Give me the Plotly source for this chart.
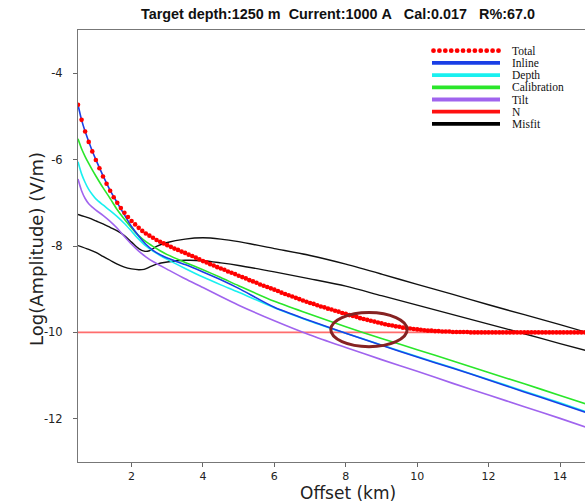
import plotly.graph_objects as go

# ---------------- data ----------------
offset_lines = [0.5, 0.6, 0.7, 0.8, 0.9, 1.0, 1.2, 1.4, 1.6, 1.8, 2.0, 2.2, 2.4, 2.6, 2.8,
                3.0, 3.5, 4.0, 4.5, 5.0, 6.0, 7.0, 8.0, 9.0, 10.0, 11.0, 12.0, 13.0, 14.0, 15.0]

inline = [-4.73, -5.08, -5.35, -5.58, -5.80, -6.00, -6.37, -6.71, -7.00, -7.28, -7.55, -7.77,
          -7.96, -8.10, -8.20, -8.28, -8.43, -8.60, -8.78, -8.98, -9.42, -9.73, -10.02, -10.30,
          -10.57, -10.83, -11.10, -11.38, -11.65, -11.93]
depth = [-6.05, -6.33, -6.53, -6.69, -6.81, -6.91, -7.05, -7.18, -7.32, -7.48, -7.66, -7.84,
         -8.00, -8.12, -8.22, -8.31, -8.52, -8.72, -8.90, -9.07, -9.43, -9.74, -10.02, -10.29,
         -10.56, -10.82, -11.09, -11.36, -11.63, -11.91]
calibration = [-5.52, -5.75, -5.93, -6.09, -6.24, -6.38, -6.65, -6.90, -7.16, -7.38, -7.58, -7.76,
               -7.90, -8.01, -8.11, -8.20, -8.38, -8.55, -8.73, -8.92, -9.28, -9.58, -9.87, -10.14,
               -10.40, -10.66, -10.93, -11.19, -11.46, -11.73]
tilt = [-6.45, -6.72, -6.90, -7.02, -7.10, -7.17, -7.29, -7.43, -7.59, -7.78, -7.96, -8.12,
        -8.25, -8.36, -8.45, -8.54, -8.76, -8.96, -9.17, -9.37, -9.73, -10.06, -10.35, -10.63,
        -10.90, -11.18, -11.45, -11.72, -11.99, -12.27]

offset_misfit = [0.5, 0.8, 1.0, 1.2, 1.4, 1.6, 1.8, 2.0, 2.2, 2.35, 2.5, 2.7, 3.0, 3.5, 4.0,
                 4.5, 5.0, 6.0, 7.0, 8.0, 9.0, 10.0, 11.0, 12.0, 13.0, 14.0, 15.0]
misfit_a = [-7.27, -7.35, -7.42, -7.49, -7.57, -7.65, -7.76, -7.91, -8.06, -8.12, -8.11, -8.01,
            -7.92, -7.84, -7.81, -7.84, -7.90, -8.06, -8.22, -8.42, -8.65, -8.89, -9.12, -9.36,
            -9.59, -9.82, -10.06]
misfit_b = [-7.99, -8.08, -8.15, -8.24, -8.33, -8.42, -8.49, -8.53, -8.55, -8.54, -8.49, -8.42,
            -8.37, -8.33, -8.34, -8.39, -8.45, -8.60, -8.76, -8.93, -9.15, -9.37, -9.59, -9.81,
            -10.03, -10.26, -10.48]

offset_n = [0.5, 15.0]
noise = [-10.0, -10.0]

offset_total = [round(0.5 + 0.1 * i, 1) for i in range(146)]
total = [-4.73, -5.08, -5.35, -5.59, -5.81, -6.01, -6.20, -6.39, -6.56, -6.72,
         -6.87, -7.00, -7.12, -7.23, -7.33, -7.42, -7.50, -7.58, -7.65, -7.71,
         -7.76, -7.81, -7.86, -7.90, -7.94, -7.98, -8.02, -8.06, -8.09, -8.13,
         -8.16, -8.20, -8.23, -8.27, -8.31, -8.35, -8.38, -8.42, -8.45, -8.49,
         -8.52, -8.55, -8.59, -8.62, -8.65, -8.69, -8.72, -8.75, -8.79, -8.82,
         -8.85, -8.89, -8.92, -8.95, -8.98, -9.01, -9.04, -9.08, -9.11, -9.14,
         -9.17, -9.20, -9.23, -9.26, -9.29, -9.32, -9.34, -9.37, -9.40, -9.42,
         -9.45, -9.47, -9.50, -9.52, -9.55, -9.57, -9.60, -9.62, -9.64, -9.67,
         -9.69, -9.71, -9.73, -9.75, -9.77, -9.79, -9.81, -9.83, -9.84, -9.86,
         -9.87, -9.89, -9.90, -9.91, -9.92, -9.93, -9.94, -9.95, -9.96, -9.96,
         -9.97, -9.97, -9.98, -9.98, -9.98, -9.99, -9.99, -9.99, -9.99, -9.99,
         -10.0, -10.0, -10.0, -10.0, -10.0, -10.0, -10.0, -10.0, -10.0, -10.0,
         -10.0, -10.0, -10.0, -10.0, -10.0, -10.0, -10.0, -10.0, -10.0, -10.0,
         -10.0, -10.0, -10.0, -10.0, -10.0, -10.0, -10.0, -10.0, -10.0, -10.0,
         -10.0, -10.0, -10.0, -10.0, -10.0, -10.0]

x_ticks = [2, 4, 6, 8, 10, 12, 14]
y_ticks = [-4, -6, -8, -10, -12]
y_tick_labels = ["-4", "-6", "-8", "-10", "-12"]

legend_names = ["Total", "Inline", "Depth", "Calibration", "Tilt", "N", "Misfit"]
title_text = "Target depth:1250 m  Current:1000 A   Cal:0.017   R%:67.0"
x_title = "Offset (km)"
y_title = "Log(Amplitude) (V/m)"

# ---------------- styles ----------------
C_TOTAL = "#ff0000"
C_INLINE = "#1a3fe6"
C_DEPTH = "#19f0f0"
C_CAL = "#2ae62a"
C_TILT = "#a064ee"
C_N = "rgba(255,60,60,0.75)"
C_MISFIT = "#111111"

W, H = 585, 504
L, R, T, B = 78, 0, 30, 42
PW, PH = W - L - R, H - T - B

fig = go.Figure()

def line(x, y, color, width=1.6):
    fig.add_trace(go.Scatter(x=x, y=y, mode="lines", showlegend=False, hoverinfo="skip",
                             line=dict(color=color, width=width, shape="spline", smoothing=0.8)))

fig.add_trace(go.Scatter(x=offset_n, y=noise, mode="lines", showlegend=False,
                         line=dict(color=C_N, width=1.6)))
line(offset_misfit, misfit_a, C_MISFIT, 1.4)
line(offset_misfit, misfit_b, C_MISFIT, 1.4)
line(offset_lines, tilt, C_TILT)
line(offset_lines, depth, C_DEPTH)
line(offset_lines, calibration, C_CAL)
line(offset_lines, inline, C_INLINE)
fig.add_trace(go.Scatter(x=offset_total, y=total, mode="markers", showlegend=False,
                         marker=dict(color=C_TOTAL, size=4.6, line=dict(width=0)),
                         cliponaxis=True))

shapes = []
# highlight ellipse
shapes.append(dict(type="circle", xref="x", yref="y", x0=7.58, x1=9.72, y0=-10.33, y1=-9.54,
                   line=dict(color="#862222", width=3), layer="above"))

# manual legend (pixel -> paper)
def px(xp):
    return (xp - L) / PW

def py(yp):
    return (H - B - yp) / PH

leg_colors = [C_TOTAL, C_INLINE, C_DEPTH, C_CAL, C_TILT, "#ff1010", "#000000"]
row0, dy = 50.7, 12.2
x_a, x_b, x_t = 432, 500, 510
annotations = []
for i, (name, col) in enumerate(zip(legend_names, leg_colors)):
    yy = row0 + i * dy
    if i == 0:
        n = 12
        r = 2.4
        for k in range(n):
            cx = x_a + 1.5 + k * (x_b - x_a - 3) / (n - 1)
            shapes.append(dict(type="circle", xref="paper", yref="paper",
                               x0=px(cx - r), x1=px(cx + r), y0=py(yy + r), y1=py(yy - r),
                               fillcolor=col, line=dict(width=0)))
    else:
        shapes.append(dict(type="line", xref="paper", yref="paper",
                           x0=px(x_a), x1=px(x_b), y0=py(yy), y1=py(yy),
                           line=dict(color=col, width=3.8)))
    annotations.append(dict(text=name, xref="paper", yref="paper", x=px(x_t), y=py(yy),
                            xanchor="left", yanchor="middle", showarrow=False,
                            font=dict(family="Liberation Serif", size=11.5, color="#111")))

# axis titles as annotations for exact placement
annotations.append(dict(text=x_title, xref="paper", yref="paper", x=px(348), y=py(504),
                        xanchor="center", yanchor="bottom", showarrow=False, borderpad=0,
                        font=dict(family="DejaVu Sans", size=17, color="#222")))
annotations.append(dict(text=y_title, xref="paper", yref="paper", x=px(36), y=py(249),
                        xanchor="center", yanchor="middle", showarrow=False, textangle=-90,
                        font=dict(family="DejaVu Sans", size=18, color="#222")))

fig.update_layout(
    width=W, height=H,
    margin=dict(l=L, r=R, t=T, b=B),
    paper_bgcolor="white", plot_bgcolor="white",
    title=dict(text=title_text.replace(" ", "\u00a0"), x=(338 - L) / PW, xref="paper",
               xanchor="center", y=1 - 14 / H, yanchor="middle",
               font=dict(family="Liberation Sans", size=14.4, color="#111", weight="bold")),
    shapes=shapes, annotations=annotations,
    xaxis=dict(range=[0.5, 14.7], tickvals=x_ticks, ticks="outside", ticklen=4,
               tickcolor="#666", showline=True, linecolor="#777", linewidth=1, mirror=True,
               showgrid=False, zeroline=False,
               tickfont=dict(family="DejaVu Sans", size=11, color="#222")),
    yaxis=dict(range=[-13.0, -3.0], tickvals=y_ticks, ticktext=y_tick_labels, ticks="outside",
               ticklen=4, tickcolor="#666", showline=True, linecolor="#777", linewidth=1,
               showgrid=False, zeroline=False, ticklabelstandoff=8,
               tickfont=dict(family="DejaVu Sans", size=11.5, color="#222")),
)

fig.write_html("out.html")
